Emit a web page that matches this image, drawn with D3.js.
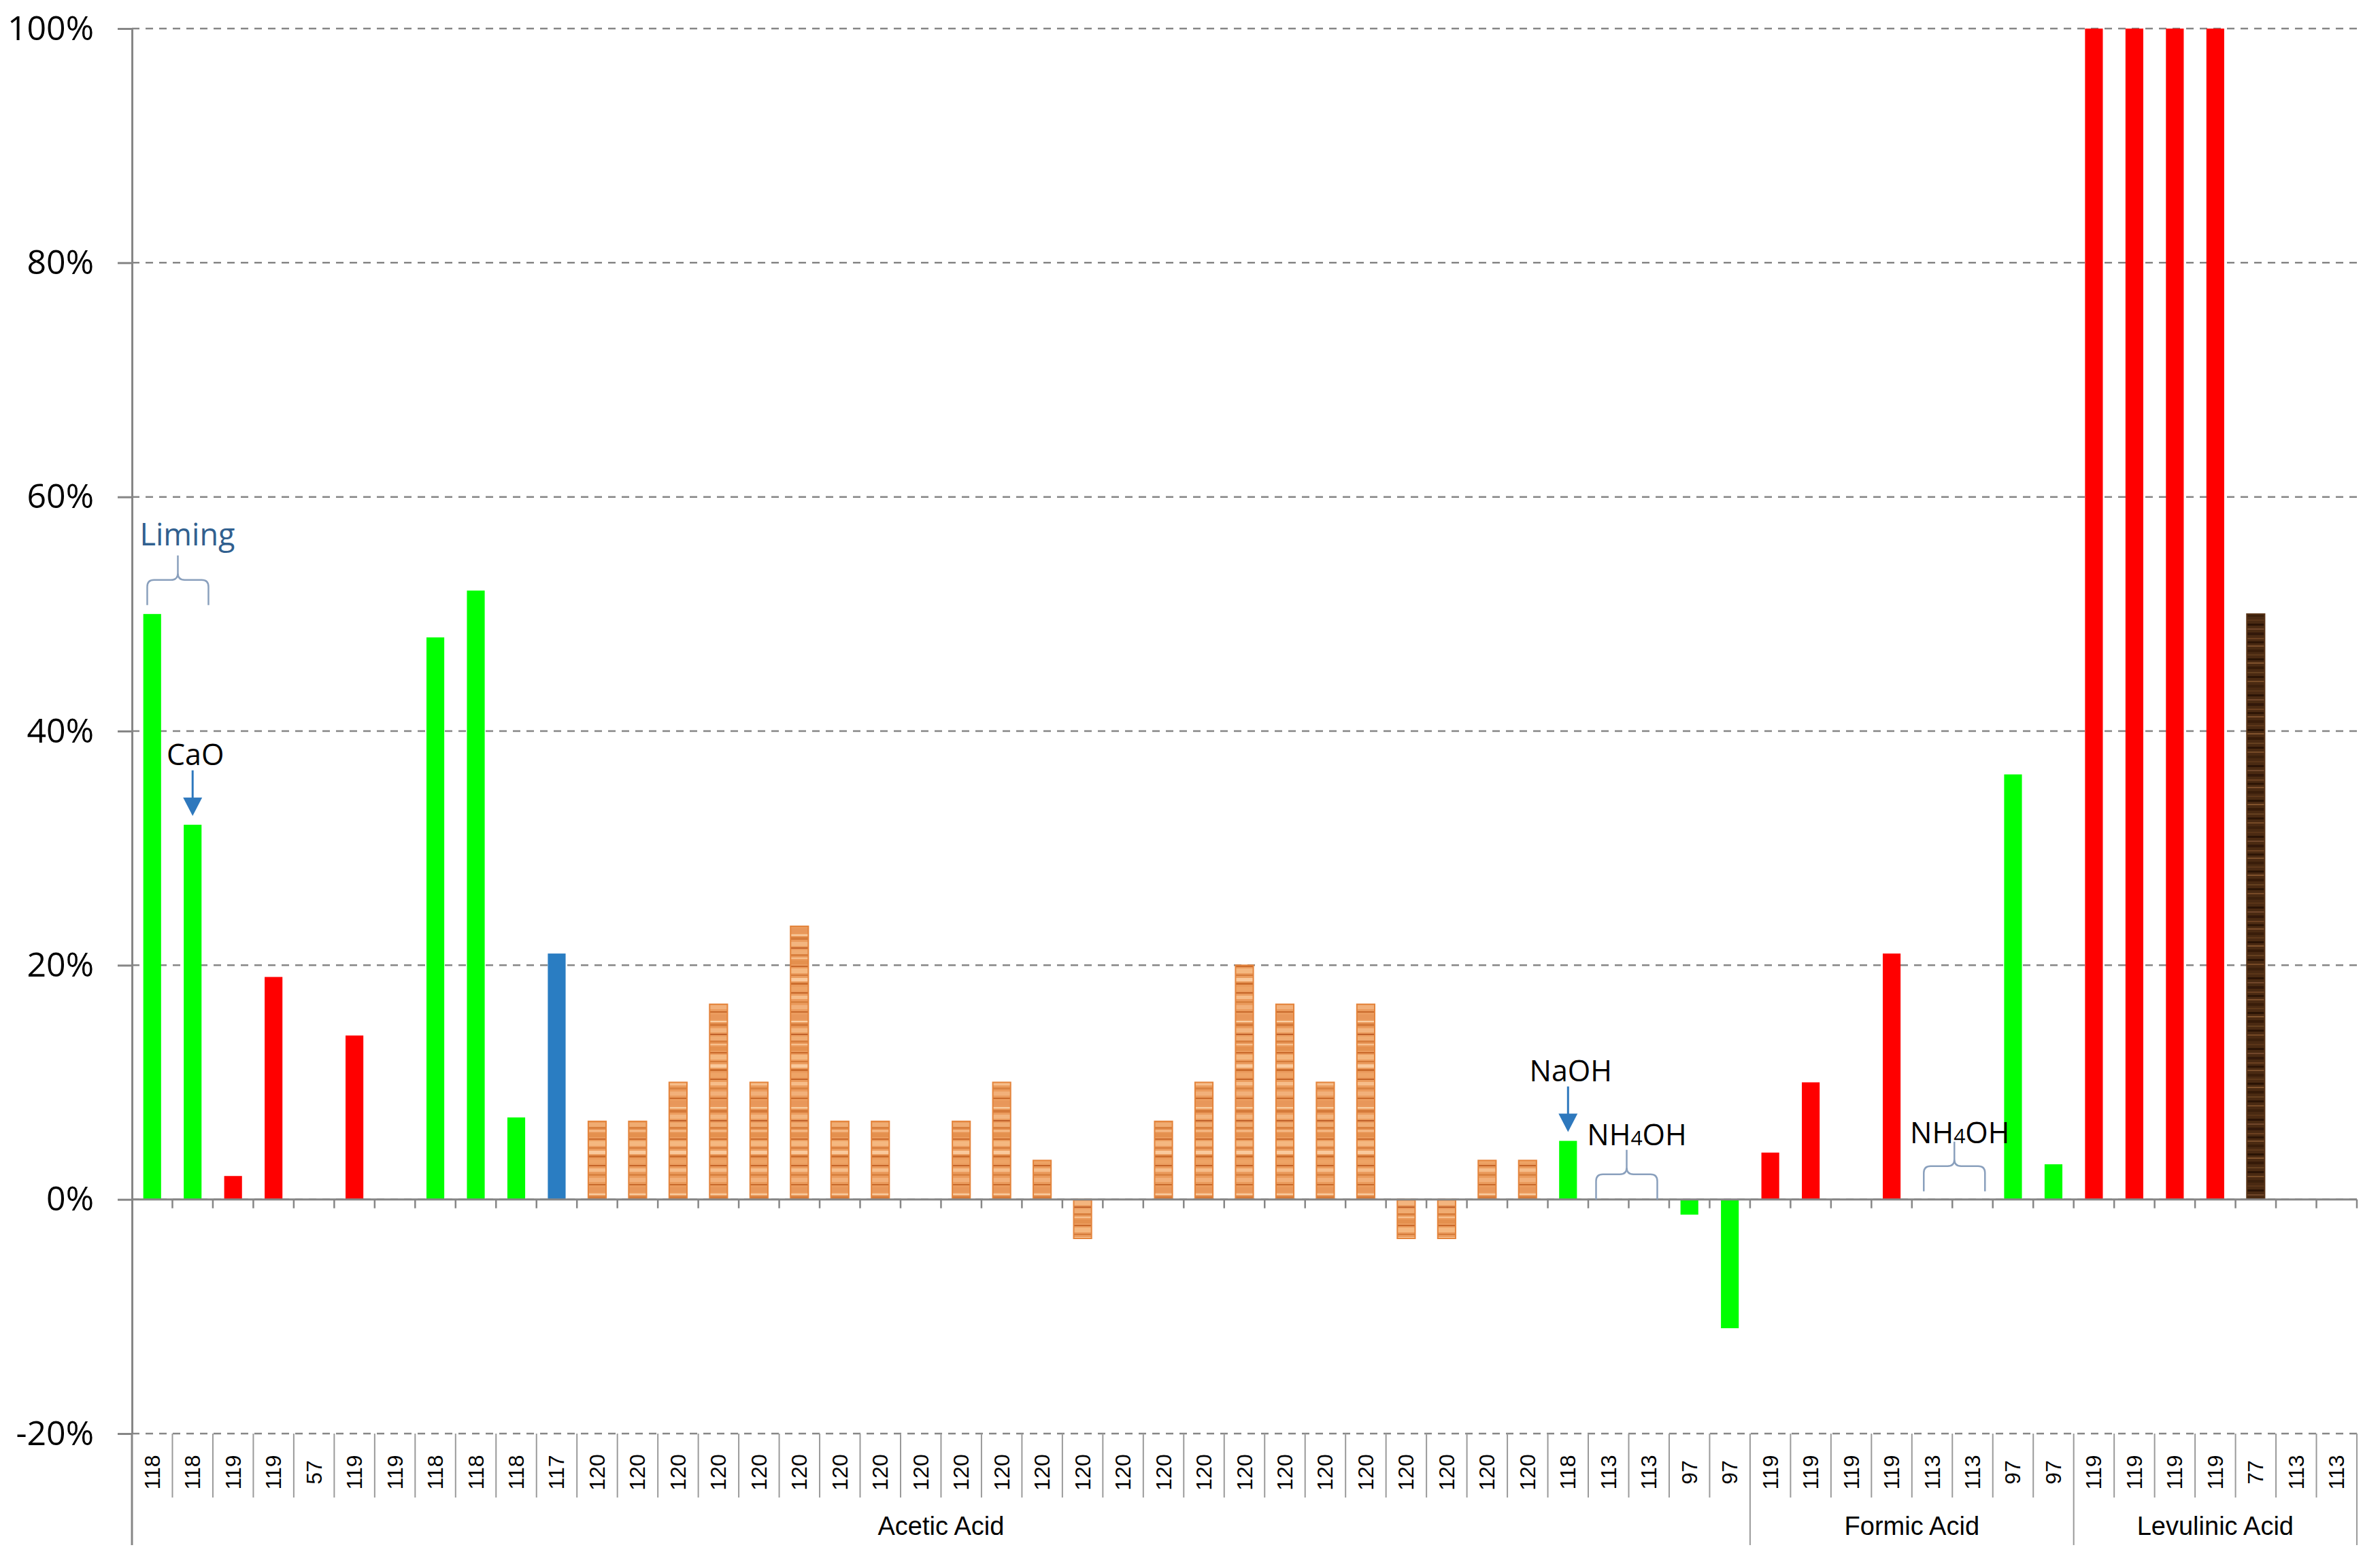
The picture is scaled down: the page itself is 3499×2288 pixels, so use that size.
<!DOCTYPE html>
<html>
<head>
<meta charset="utf-8">
<script src="https://cdn.jsdelivr.net/npm/d3@7"></script>
<style>
  body { margin: 0; background: #fff; }
  svg { display: block; }
</style>
</head>
<body>
<svg id="chart"></svg>
<script>
// temperature labels under each bar
const categories = [
  "118", "118", "119", "119", "57", "119", "119", "118", "118", "118", "117",
  "120", "120", "120", "120", "120", "120", "120", "120", "120", "120", "120", "120",
  "120", "120", "120", "120", "120", "120", "120", "120", "120", "120", "120", "120",
  "118", "113", "113", "97", "97",
  "119", "119", "119", "119", "113", "113", "97", "97",
  "119", "119", "119", "119", "77", "113", "113"
];

// % change, null = no bar
const values = [
  50, 32, 2, 19, null, 14, null, 48, 52, 7, 21,
  6.67, 6.67, 10, 16.67, 10, 23.33, 6.67, 6.67, null, 6.67, 10, 3.33,
  -3.33, null, 6.67, 10, 20, 16.67, 10, 16.67, -3.33, -3.33, 3.33, 3.33,
  5, null, null, -1.3, -11,
  4, 10, null, 21, null, null, 36.3, 3,
  100, 100, 100, 100, 50, null, null
];

// g = green, r = red, b = blue, o = light wood, w = dark wood
const barTypes = [
  "g", "g", "r", "r", "", "r", "", "g", "g", "g", "b",
  "o", "o", "o", "o", "o", "o", "o", "o", "o", "o", "o", "o",
  "o", "o", "o", "o", "o", "o", "o", "o", "o", "o", "o", "o",
  "g", "", "", "g", "g",
  "r", "r", "", "r", "", "", "g", "g",
  "r", "r", "r", "r", "w", "", ""
];

const groupNames = ["Acetic Acid", "Formic Acid", "Levulinic Acid"];
const groupSizes = [40, 8, 7];

const yTicks = [-20, 0, 20, 40, 60, 80, 100];

const arrowNotes = [
  { label: "CaO", index: 1 },
  { label: "NaOH", index: 35 }
];
const braceNotes = [
  { label: "Liming", from: 0, to: 1 },
  { label: "NH4OH", from: 36, to: 37 },
  { label: "NH4OH", from: 44, to: 45 }
];
// per-brace placement tweaks: [leg gap, brace dx, text dx, text dy]
const braceTweaks = [[13, 8, 14, -15], [0, -3, 15, -7], [12, 3, 8, 2]];
const braceText = ["#31608f", "#000", "#000"];
const braceSize = ["45px", "43px", "43px"];

const W = 3499, H = 2288;
const margin = { top: 42, right: 34, bottom: 180, left: 194 };

const svg = d3.select("#chart").attr("width", W).attr("height", H);
const defs = svg.append("defs");

// wood grain fills
const orangeStripes = [
  [0, 6, "#f0ac72"], [6, 3, "#d9803f"], [11, 2, "#f7c08e"], [15, 6, "#e4904e"],
  [23, 2, "#c9692b"], [27, 7, "#f5b880"], [36, 2, "#d47a3a"], [41, 5, "#f9c99c"],
  [48, 3, "#cc6e2e"], [54, 6, "#eea466"], [62, 2, "#c46428"], [67, 5, "#f6bd8a"],
  [75, 3, "#d98342"], [81, 6, "#f2b07a"], [90, 2, "#c86a2c"], [95, 7, "#e8975a"],
  [104, 2, "#f9cfa4"], [108, 4, "#d57b3b"], [115, 6, "#f3b57f"], [123, 2, "#c0602a"]
];
const brownStripes = [
  [2, 2, "#6b4020"], [7, 3, "#2e1606"], [13, 2, "#7a4d2a"], [19, 4, "#3a1e0a"],
  [26, 2, "#5e381a"], [32, 3, "#2a1405"], [38, 2, "#80522c"], [44, 4, "#361b08"],
  [52, 2, "#65401f"], [58, 3, "#2c1506"], [65, 2, "#764a26"], [71, 4, "#3c200c"],
  [79, 2, "#5a3518"], [85, 3, "#2b1406"], [92, 2, "#70462a"], [98, 4, "#33190a"]
];

function woodPattern(id, base, stripes, h) {
  const p = defs.append("pattern")
    .attr("id", id)
    .attr("patternUnits", "userSpaceOnUse")
    .attr("width", 40)
    .attr("height", h);
  p.append("rect").attr("width", 40).attr("height", h).attr("fill", base);
  p.selectAll("rect.s")
    .data(stripes)
    .join("rect")
    .attr("class", "s")
    .attr("x", 0)
    .attr("y", d => d[0])
    .attr("width", 40)
    .attr("height", d => d[1])
    .attr("fill", d => d[2]);
}
woodPattern("woodOrange", "#eb9c5e", orangeStripes, 127);
woodPattern("woodBrown", "#4a2a12", brownStripes, 104);

const fills = { g: "#00ff00", r: "#ff0000", b: "#2a7dc2", o: "url(#woodOrange)", w: "url(#woodBrown)" };
const strokes = { o: "#e4843c", w: "#5a3518" };

const n = categories.length;
const x0 = margin.left, x1 = W - margin.right;

const xStep = d3.scaleBand().domain(d3.range(n)).range([x0, x1]).padding(0);
const xBar = d3.scaleBand().domain(d3.range(n)).range([x0, x1])
  .paddingInner(0.56).paddingOuter(0.28);
const step = xStep.step();

const y = d3.scaleLinear().domain([-20, 100]).range([H - margin.bottom, margin.top]);

const gridColor = "#868686";

// gridlines
svg.append("g")
  .selectAll("line")
  .data(yTicks)
  .join("line")
  .attr("x1", x0)
  .attr("x2", x1)
  .attr("y1", d => y(d))
  .attr("y2", d => y(d))
  .attr("stroke", gridColor)
  .attr("stroke-width", 2.5)
  .attr("stroke-dasharray", "11,9");

// bars
const barData = values.map((v, i) => ({ v, i, t: barTypes[i] })).filter(d => d.v !== null);
svg.append("g")
  .selectAll("rect")
  .data(barData)
  .join("rect")
  .attr("x", d => xBar(d.i))
  .attr("width", xBar.bandwidth())
  .attr("y", d => y(Math.max(0, d.v)))
  .attr("height", d => Math.abs(y(d.v) - y(0)))
  .attr("fill", d => fills[d.t])
  .attr("stroke", d => strokes[d.t] || "none")
  .attr("stroke-width", 2);

// x axis at zero
const xAxis = svg.append("g");
xAxis.append("line")
  .attr("x1", x0).attr("x2", x1)
  .attr("y1", y(0)).attr("y2", y(0))
  .attr("stroke", gridColor).attr("stroke-width", 3);
xAxis.selectAll("line.tick")
  .data(d3.range(1, n + 1))
  .join("line")
  .attr("class", "tick")
  .attr("x1", i => i < n ? xStep(i) : x1)
  .attr("x2", i => i < n ? xStep(i) : x1)
  .attr("y1", y(0))
  .attr("y2", y(0) + 13)
  .attr("stroke", gridColor).attr("stroke-width", 2.5);

// y axis
const yAxis = svg.append("g")
  .attr("transform", `translate(${x0},0)`)
  .call(d3.axisLeft(y).tickValues(yTicks).tickFormat(d => d + "%")
    .tickSize(21).tickSizeOuter(0).tickPadding(35));
yAxis.select(".domain").attr("stroke", gridColor).attr("stroke-width", 3);
yAxis.selectAll(".tick line").attr("stroke", gridColor).attr("stroke-width", 3);
yAxis.selectAll(".tick text")
  .attr("fill", "#000")
  .style("font-family", "'Open Sans', sans-serif")
  .style("font-size", "50px");

// category block under the plot
const labelTop = y(-20);
const groupEnds = d3.cumsum(groupSizes);
const bottom = svg.append("g");
bottom.append("line")
  .attr("x1", x0).attr("x2", x0)
  .attr("y1", labelTop).attr("y2", 2272)
  .attr("stroke", gridColor).attr("stroke-width", 3);
bottom.selectAll("line.sep")
  .data(d3.range(1, n + 1))
  .join("line")
  .attr("class", "sep")
  .attr("x1", i => i < n ? xStep(i) : x1)
  .attr("x2", i => i < n ? xStep(i) : x1)
  .attr("y1", labelTop)
  .attr("y2", i => groupEnds.includes(i) ? 2272 : 2202)
  .attr("stroke", "#9a9a9a").attr("stroke-width", 2);

bottom.selectAll("text.cat")
  .data(categories)
  .join("text")
  .attr("class", "cat")
  .attr("transform", (d, i) => `translate(${xStep(i) + step / 2},2165) rotate(-90)`)
  .attr("text-anchor", "middle")
  .attr("dominant-baseline", "central")
  .style("font-family", "'Liberation Sans', Arial, sans-serif")
  .style("font-size", "32px")
  .text(d => d);

bottom.selectAll("text.group")
  .data(groupNames)
  .join("text")
  .attr("class", "group")
  .attr("x", (d, i) => {
    const start = i === 0 ? 0 : groupEnds[i - 1];
    const end = groupEnds[i];
    const a = xStep(start), b = end < n ? xStep(end) : x1;
    return (a + b) / 2;
  })
  .attr("y", 2257)
  .attr("text-anchor", "middle")
  .style("font-family", "'Liberation Sans', Arial, sans-serif")
  .style("font-size", "38px")
  .text(d => d);

// annotations: arrows
const arrowColor = "#2e78bd";
const notes = svg.append("g");
arrowNotes.forEach(a => {
  const cx = xStep(a.index) + step / 2;
  const tip = y(values[a.index]) - 13;
  const top = tip - 67;
  notes.append("line")
    .attr("x1", cx).attr("x2", cx)
    .attr("y1", top).attr("y2", tip - 20)
    .attr("stroke", arrowColor).attr("stroke-width", 3);
  notes.append("path")
    .attr("d", `M${cx - 14},${tip - 27} L${cx + 14},${tip - 27} L${cx},${tip} Z`)
    .attr("fill", arrowColor);
  notes.append("text")
    .attr("x", cx + 4)
    .attr("y", top - 8)
    .attr("text-anchor", "middle")
    .style("font-family", "'Open Sans', sans-serif")
    .style("font-size", "43px")
    .text(a.label);
});

// annotations: braces
braceNotes.forEach((b, k) => {
  const [gap, bdx, tdx, tdy] = braceTweaks[k];
  const vals = d3.range(b.from, b.to + 1).map(i => values[i] || 0);
  const legBottom = y(Math.max(0, d3.max(vals))) - gap;
  const yh = legBottom - 37;
  const yp = yh - 36;
  const xm = xStep(b.to) + bdx;
  const xa = xm - 45, xb = xm + 45, r = 10;
  notes.append("path")
    .attr("d", `M${xa},${legBottom} L${xa},${yh + r} Q${xa},${yh} ${xa + r},${yh} L${xm - r},${yh} Q${xm},${yh} ${xm},${yh - r} L${xm},${yp}`
      + ` M${xm},${yh - r} Q${xm},${yh} ${xm + r},${yh} L${xb - r},${yh} Q${xb},${yh} ${xb},${yh + r} L${xb},${legBottom}`)
    .attr("fill", "none")
    .attr("stroke", "#8aa0bd")
    .attr("stroke-width", 2.5);
  const t = notes.append("text")
    .attr("x", xm + tdx)
    .attr("y", yp + tdy)
    .attr("text-anchor", "middle")
    .attr("fill", braceText[k])
    .style("font-family", "'Open Sans', sans-serif")
    .style("font-size", braceSize[k]);
  const m = b.label.match(/^(\D+)(\d)(\D+)$/);
  if (m) {
    t.append("tspan").text(m[1]);
    t.append("tspan").style("font-size", "30px").text(m[2]);
    t.append("tspan").text(m[3]);
  } else {
    t.text(b.label);
  }
});
</script>
</body>
</html>
